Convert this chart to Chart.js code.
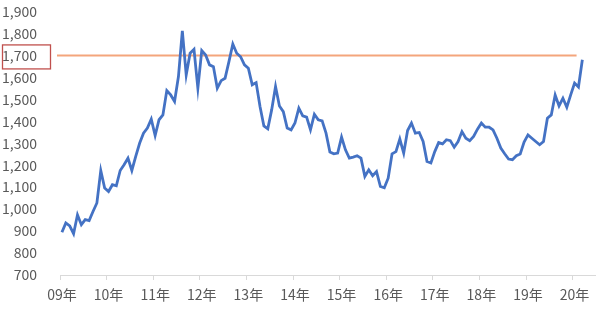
<!DOCTYPE html>
<html>
<head>
<meta charset="utf-8">
<script src="https://cdn.jsdelivr.net/npm/chart.js"></script>
<style>
    html, body { margin: 0; padding: 0; background: #ffffff; }
    #wrap { width: 600px; height: 318px; }
</style>
</head>
<body>
<div id="wrap"><canvas id="goldChart" width="600" height="318"></canvas></div>
<script>
// Year tick labels (one every 12 months)
const yearLabels = ['09年', '10年', '11年', '12年', '13年', '14年', '15年', '16年', '17年', '18年', '19年', '20年'];
const firstYear = 2009;
const monthSlots = 138; // axis runs to mid 2020, data stops earlier

// Monthly values, Jan 2009 onward
const monthlyPrice = [
    895, 937, 924, 888, 974, 929, 952, 948, 989, 1028, 1176, 1096,
    1080, 1111, 1106, 1176, 1202, 1232, 1176, 1240, 1300, 1346, 1369, 1410,
    1335, 1407, 1429, 1540, 1520, 1490, 1604, 1812, 1611, 1710, 1728, 1551,
    1722, 1702, 1657, 1649, 1551, 1585, 1596, 1672, 1752, 1710, 1694, 1657,
    1642, 1566, 1576, 1467, 1379, 1366, 1452, 1558, 1470, 1444, 1369, 1361,
    1392, 1460, 1425, 1419, 1361, 1432, 1407, 1402, 1346, 1260, 1252, 1255,
    1328, 1270, 1232, 1237, 1243, 1232, 1149, 1179, 1152, 1171, 1103, 1097,
    1141, 1252, 1262, 1319, 1255, 1358, 1392, 1346, 1349, 1308, 1217, 1210,
    1262, 1303, 1297, 1316, 1312, 1282, 1308, 1353, 1323, 1312, 1331, 1364,
    1392, 1373, 1373, 1361, 1323, 1278, 1252, 1228, 1225, 1243, 1251, 1305,
    1338, 1323, 1308, 1293, 1308, 1414, 1429, 1520, 1470, 1505, 1464, 1520,
    1574, 1556, 1680
];

// Y axis range
const yMin = 700;
const yMax = 1900;
const yStep = 100;

// Highlighted level
const limitValue = 1700;
const limitEndIndex = 132;

// Build month categories
const monthLabels = [];
for (let i = 0; i < monthSlots; i++) {
    const y = firstYear + Math.floor(i / 12);
    monthLabels.push(y + '/' + ((i % 12) + 1));
}

const labelColor = '#595959';
const axisColor = '#D9D9D9';

// Orange line at the limit value, drawn behind the series
const limitLinePlugin = {
    id: 'limitLine',
    beforeDatasetsDraw(chart) {
        const ctx = chart.ctx;
        const yPix = chart.scales.y.getPixelForValue(limitValue);
        const xStart = chart.chartArea.left - 3;
        const xEnd = chart.scales.x.getPixelForValue(limitEndIndex) + 2;
        ctx.save();
        ctx.strokeStyle = '#F4A57C';
        ctx.lineWidth = 2;
        ctx.beginPath();
        ctx.moveTo(xStart, yPix);
        ctx.lineTo(xEnd, yPix);
        ctx.stroke();
        ctx.restore();
    },
    afterDraw(chart) {
        // red frame round the 1,700 tick label
        const ctx = chart.ctx;
        const yPix = chart.scales.y.getPixelForValue(limitValue);
        ctx.save();
        ctx.strokeStyle = '#C0504D';
        ctx.lineWidth = 1.3;
        ctx.strokeRect(2.5, yPix - 10.5, 48, 24);
        ctx.restore();
    }
};

new Chart(document.getElementById('goldChart'), {
    type: 'line',
    data: {
        labels: monthLabels,
        datasets: [{
            data: monthlyPrice,
            borderColor: '#4472C4',
            borderWidth: 2.8,
            pointRadius: 0,
            tension: 0,
            fill: false
        }]
    },
    options: {
        responsive: false,
        animation: false,
        layout: { padding: { top: 11.5, right: 0, bottom: 0, left: 0 } },
        plugins: {
            legend: { display: false },
            tooltip: { enabled: false }
        },
        scales: {
            x: {
                type: 'category',
                offset: true,
                grid: {
                    display: true,
                    offset: true,
                    drawOnChartArea: false,
                    drawTicks: true,
                    tickLength: 5,
                    color: ctx => (ctx.index % 12 === 0 ? axisColor : 'rgba(0,0,0,0)')
                },
                border: { display: true, color: axisColor, width: 1 },
                ticks: {
                    autoSkip: false,
                    maxRotation: 0,
                    padding: 6,
                    color: labelColor,
                    font: { family: '"Noto Sans CJK JP", "Noto Sans", sans-serif', size: 14 },
                    callback: (val, index) => (index % 12 === 0 ? yearLabels[index / 12] : '')
                },
                afterFit: scale => { scale.height = 43; }
            },
            y: {
                min: yMin,
                max: yMax,
                grid: { display: false },
                border: { display: false },
                ticks: {
                    stepSize: yStep,
                    padding: 15,
                    color: labelColor,
                    font: { family: '"Noto Sans CJK JP", "Noto Sans", sans-serif', size: 14 },
                    callback: v => v.toLocaleString('en-US')
                },
                afterFit: scale => {
                    scale.width = 60;
                    // let the layout padding alone decide the top edge
                    scale.paddingTop = 0;
                    scale.paddingBottom = 0;
                }
            }
        }
    },
    plugins: [limitLinePlugin]
});
</script>
</body>
</html>
